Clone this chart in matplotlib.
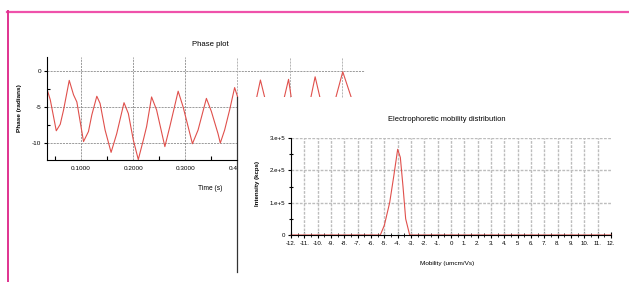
import numpy as np
import matplotlib
matplotlib.use("Agg")
import matplotlib.pyplot as plt
from matplotlib.patches import Polygon
from matplotlib.lines import Line2D
from matplotlib.transforms import blended_transform_factory

plt.rcParams['font.family'] = ['Liberation Sans', 'DejaVu Sans']
plt.rcParams['axes.unicode_minus'] = False

# phase plot data (time in s, phase in radians)
phase_t = [0.0344, 0.0407, 0.0522, 0.0598, 0.0662, 0.0771, 0.0853, 0.0917, 0.1045,
           0.1140, 0.1204, 0.1300, 0.1363, 0.1459, 0.1574, 0.1682, 0.1822, 0.1905,
           0.2001, 0.2096, 0.2192, 0.2256, 0.2351, 0.2447, 0.2606, 0.2702, 0.2861,
           0.2957, 0.3135, 0.3243, 0.3403, 0.3498, 0.3626, 0.3670, 0.3753, 0.3849,
           0.3945, 0.4002, 0.4150, 0.4370, 0.4440, 0.4520, 0.4700, 0.4900, 0.4980,
           0.5030, 0.5200, 0.5410, 0.5490, 0.5580, 0.5730, 0.5890, 0.6020, 0.6180,
           0.6300]
phase_v = [-2.5, -4.0, -8.3, -7.4, -5.4, -1.3, -3.3, -4.3, -9.8,
           -8.4, -6.1, -3.5, -4.5, -8.2, -11.3, -8.7, -4.4, -5.9,
           -9.6, -12.3, -9.6, -7.7, -3.6, -5.4, -10.5, -7.7, -2.8,
           -5.0, -10.1, -8.2, -3.8, -5.6, -8.7, -10.0, -8.2, -5.4,
           -2.3, -3.6, -9.5, -3.6, -1.25, -3.6, -9.8, -3.6, -1.15,
           -3.6, -9.5, -3.6, -0.8, -3.6, -9.5, -3.6, -0.1, -3.6,
           -8.0]
phase_xticks = [0.1, 0.2, 0.3, 0.4]
phase_xticklabels = ["0.1000", "0.2000", "0.3000", "0.4"]
phase_yticks = [0, -5, -10]
phase_yticklabels = ["0", "-5", "-10"]

# mobility distribution data
mob_x = [-12.0, -5.3, -5.0, -4.6, -4.3, -4.0, -3.8, -3.6, -3.4, -3.1, -2.9, 12.0]
mob_y = [0, 0, 0.3e5, 1.0e5, 1.8e5, 2.65e5, 2.4e5, 1.5e5, 0.5e5, 0.0, 0, 0]
mob_ticks = list(range(-12, 13))
mob_ticklabels = [("%d." % v if v not in (0, 5) else "%d" % v) for v in mob_ticks]
int_ticks = [0, 1e5, 2e5, 3e5]
int_ticklabels = ["0", "1.e+5", "2.e+5", "3.e+5"]

W, H = 629, 282
red = '#e0504c'
gls = (0, (2.5, 1.2))

fig = plt.figure(figsize=(W / 100, H / 100), dpi=100)
fig.patch.set_facecolor('white')

def box(x0, y0, x1, y1):
    return [x0 / W, 1 - y1 / H, (x1 - x0) / W, (y1 - y0) / H]

# ---- phase plot ----
t_lo, t_hi = 0.0344, 0.6447
p_lo, p_hi = -12.36, 1.95
t_win = 0.4
p_cut = -3.6
grid1 = '#8c8c8c'
ax1 = fig.add_axes(box(47, 57, 365, 160))
ax1.set_xlim(t_lo, t_hi)
ax1.set_ylim(p_lo, p_hi)
ax1.patch.set_alpha(0)
for s in ['top', 'right']:
    ax1.spines[s].set_visible(False)
ax1.spines['bottom'].set_bounds(t_lo, t_win)
ax1.spines['left'].set_linewidth(0.8)
ax1.spines['bottom'].set_linewidth(0.8)

# grid
ax1.axhline(0, color=grid1, lw=0.6, ls=gls)
wfrac = (t_win - t_lo) / (t_hi - t_lo)
for v in [-5, -10]:
    ax1.axhline(v, xmax=wfrac, color=grid1, lw=0.6, ls=gls)
for v in [0.1, 0.2, 0.3]:
    ax1.axvline(v, color=grid1, lw=0.6, ls=gls)
cfrac = (p_cut - p_lo) / (p_hi - p_lo)
for v in [0.4, 0.5, 0.6]:
    ax1.axvline(v, ymin=cfrac, color='#aaaaaa', lw=0.6, ls=gls)

line, = ax1.plot(phase_t, phase_v, color=red, lw=0.8)
clip = Polygon([(t_lo, p_hi), (t_hi, p_hi), (t_hi, p_cut), (t_win, p_cut),
                (t_win, p_lo), (t_lo, p_lo)], closed=True, transform=ax1.transData,
               facecolor='none', edgecolor='none')
line.set_clip_path(clip)

ax1.set_xticks(phase_xticks)
ax1.set_xticklabels(phase_xticklabels, fontsize=4.6)
ax1.get_xticklabels()[-1].set_ha('right')
ax1.set_xticks([0.05, 0.15, 0.25, 0.35], minor=True)
ax1.tick_params(axis='x', which='major', length=0, pad=4)
ax1.tick_params(axis='x', which='minor', direction='in', length=3, width=0.8)
ax1.set_yticks(phase_yticks)
ax1.set_yticklabels(phase_yticklabels, fontsize=4.6)
ax1.set_yticks([-2.5, -7.5], minor=True)
ax1.tick_params(axis='y', which='major', direction='out', length=2.5, width=0.8, pad=1.5)
ax1.tick_params(axis='y', which='minor', direction='in', length=2.5, width=0.8)

# window edge line
trans = blended_transform_factory(ax1.transData, fig.transFigure)
ax1.plot([t_win, t_win], [1 - 97 / H, 1 - 272 / H], color='#333333', lw=0.9,
         transform=trans, clip_on=False)

fig.text(210 / W, 1 - 44 / H, "Phase plot", fontsize=5.6, ha='center', va='center')
fig.text(210 / W, 1 - 188 / H, "Time (s)", fontsize=4.8, ha='center', va='center')
fig.text(19 / W, 1 - 108 / H, "Phase (radians)", fontsize=4.6, ha='center', va='center',
         rotation=90, fontweight='bold')

# ---- mobility distribution ----
grid2 = '#bdbdbd'
ax2 = fig.add_axes(box(291, 138, 611, 235))
ax2.set_xlim(-12, 12)
ax2.set_ylim(0, 3e5)
ax2.patch.set_alpha(0)
for s in ['top', 'right']:
    ax2.spines[s].set_visible(False)
ax2.spines['left'].set_linewidth(0.8)
ax2.spines['bottom'].set_linewidth(0.8)
for v in range(-11, 12):
    ax2.axvline(v, color=grid2, lw=1.0, ls=(0, (2, 1)))
for v in [1e5, 2e5, 3e5]:
    ax2.axhline(v, color=grid2, lw=1.0, ls=(0, (2, 1)))
ax2.plot(mob_x, mob_y, color=red, lw=0.8, clip_on=False)

ax2.set_xticks(mob_ticks)
ax2.set_xticklabels(mob_ticklabels, fontsize=4.4)
ax2.set_xticks(np.arange(-11.5, 12, 1.0), minor=True)
ax2.tick_params(axis='x', which='major', direction='inout', length=4, width=0.8, pad=2)
ax2.tick_params(axis='x', which='minor', direction='inout', length=3, width=0.6)
ax2.set_yticks(int_ticks)
ax2.set_yticklabels(int_ticklabels, fontsize=4.4)
ax2.set_yticks([0.5e5, 1.5e5, 2.5e5], minor=True)
ax2.tick_params(axis='y', which='major', direction='out', length=2.5, width=0.8, pad=1.5)
ax2.tick_params(axis='y', which='minor', direction='inout', length=3, width=0.8)

fig.text(447 / W, 1 - 120 / H, "Electrophoretic mobility distribution", fontsize=5.4,
         ha='center', va='center')
fig.text(447 / W, 1 - 264 / H, "Mobility (umcm/Vs)", fontsize=4.6, ha='center', va='center')
fig.text(257 / W, 1 - 183 / H, "Intensity (kcps)", fontsize=4.4, ha='center', va='center',
         rotation=90, fontweight='bold')

# pink frame
fig.add_artist(Line2D([7 / W, 1], [1 - 12 / H, 1 - 12 / H], color='#ef52ab', lw=1.6,
                      transform=fig.transFigure))
fig.add_artist(Line2D([7.5 / W, 7.5 / W], [1 - 11 / H, 0], color='#e0328f', lw=1.4,
                      transform=fig.transFigure))

plt.savefig("out.png", dpi=100)
